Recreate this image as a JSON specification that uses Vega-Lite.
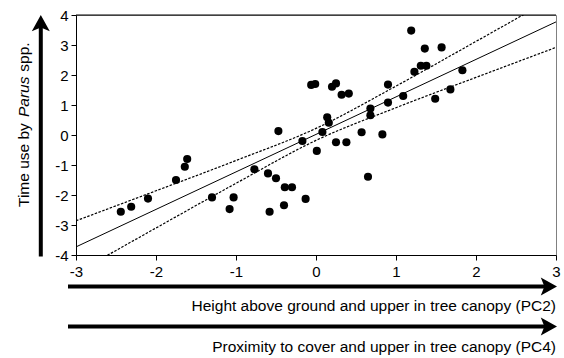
{
  "$schema": "https://vega.github.io/schema/vega-lite/v6.json",
  "width": 480,
  "height": 240,
  "autosize": {"type": "none"},
  "padding": {"left": 76, "top": 15, "right": 8, "bottom": 103},
  "background": "white",
  "config": {
    "view": {"stroke": "#808080", "strokeWidth": 1},
    "font": "Liberation Sans",
    "axis": {
      "grid": false, "tickSize": 5, "labelFontSize": 15, "labelColor": "black",
      "domainColor": "black", "tickColor": "black", "labelFlush": false, "labelOverlap": false,
      "labelExpr": "datum.value < 0 ? '-' + abs(datum.value) : '' + datum.value"
    },
    "axisX": {"labelPadding": 4},
    "axisY": {"labelPadding": 3}
  },
  "datasets": {
    "obs": [
      {"pc": 1.19, "time": 3.48}, {"pc": 1.36, "time": 2.88}, {"pc": 1.57, "time": 2.92},
      {"pc": 1.31, "time": 2.31}, {"pc": 1.38, "time": 2.31}, {"pc": 1.23, "time": 2.11},
      {"pc": 1.83, "time": 2.16}, {"pc": 1.68, "time": 1.52}, {"pc": 1.49, "time": 1.21},
      {"pc": -0.06, "time": 1.67}, {"pc": -0.01, "time": 1.70}, {"pc": 0.20, "time": 1.61},
      {"pc": 0.25, "time": 1.72}, {"pc": 0.32, "time": 1.34}, {"pc": 0.41, "time": 1.38},
      {"pc": 0.90, "time": 1.68}, {"pc": 0.90, "time": 1.08}, {"pc": 1.09, "time": 1.30},
      {"pc": 0.68, "time": 0.88}, {"pc": 0.68, "time": 0.66}, {"pc": 0.14, "time": 0.59},
      {"pc": 0.16, "time": 0.41}, {"pc": 0.08, "time": 0.10}, {"pc": 0.57, "time": 0.09},
      {"pc": 0.83, "time": 0.02}, {"pc": -0.17, "time": -0.20}, {"pc": 0.01, "time": -0.53},
      {"pc": 0.25, "time": -0.24}, {"pc": 0.38, "time": -0.24}, {"pc": 0.65, "time": -1.39},
      {"pc": -0.13, "time": -2.13}, {"pc": -0.47, "time": 0.13}, {"pc": -2.44, "time": -2.56},
      {"pc": -2.31, "time": -2.39}, {"pc": -2.10, "time": -2.12}, {"pc": -1.75, "time": -1.50},
      {"pc": -1.64, "time": -1.06}, {"pc": -1.61, "time": -0.80}, {"pc": -1.30, "time": -2.08},
      {"pc": -1.03, "time": -2.08}, {"pc": -1.08, "time": -2.47}, {"pc": -0.77, "time": -1.14},
      {"pc": -0.60, "time": -1.28}, {"pc": -0.50, "time": -1.44}, {"pc": -0.39, "time": -1.74},
      {"pc": -0.30, "time": -1.74}, {"pc": -0.40, "time": -2.34}, {"pc": -0.58, "time": -2.56}
    ],
    "fit": [
      {"pc": -3, "fit": -3.73, "lower": -4.60, "upper": -2.86},
      {"pc": -2, "fit": -2.48, "lower": -3.10, "upper": -1.86},
      {"pc": -1, "fit": -1.23, "lower": -1.61, "upper": -0.85},
      {"pc": 0, "fit": 0.02, "lower": -0.18, "upper": 0.22},
      {"pc": 1, "fit": 1.27, "lower": 0.91, "upper": 1.63},
      {"pc": 2, "fit": 2.52, "lower": 1.92, "upper": 3.12},
      {"pc": 3, "fit": 3.77, "lower": 2.92, "upper": 4.62}
    ]
  },
  "layer": [
    {
      "data": {"name": "obs"},
      "mark": {"type": "point", "filled": true, "color": "black", "opacity": 1, "size": 66, "shape": "circle"},
      "encoding": {
        "x": {"field": "pc", "type": "quantitative", "title": null, "scale": {"domain": [-3, 3], "nice": false, "zero": false}, "axis": {"values": [-3, -2, -1, 0, 1, 2, 3]}},
        "y": {"field": "time", "type": "quantitative", "title": null, "scale": {"domain": [-4, 4], "nice": false, "zero": false}, "axis": {"values": [-4, -3, -2, -1, 0, 1, 2, 3, 4]}}
      }
    },
    {
      "data": {"name": "fit"},
      "mark": {"type": "line", "color": "black", "strokeWidth": 1, "clip": true},
      "encoding": {
        "x": {"field": "pc", "type": "quantitative", "title": null, "axis": {"values": [-3, -2, -1, 0, 1, 2, 3]}},
        "y": {"field": "fit", "type": "quantitative", "title": null, "axis": {"values": [-4, -3, -2, -1, 0, 1, 2, 3, 4]}}
      }
    },
    {
      "data": {"name": "fit"},
      "mark": {"type": "line", "color": "black", "strokeWidth": 1.2, "strokeDash": [2.5, 1.5], "clip": true, "interpolate": "monotone"},
      "encoding": {
        "x": {"field": "pc", "type": "quantitative", "title": null, "axis": {"values": [-3, -2, -1, 0, 1, 2, 3]}},
        "y": {"field": "upper", "type": "quantitative", "title": null, "axis": {"values": [-4, -3, -2, -1, 0, 1, 2, 3, 4]}}
      }
    },
    {
      "data": {"name": "fit"},
      "mark": {"type": "line", "color": "black", "strokeWidth": 1.2, "strokeDash": [2.5, 1.5], "clip": true, "interpolate": "monotone"},
      "encoding": {
        "x": {"field": "pc", "type": "quantitative", "title": null, "axis": {"values": [-3, -2, -1, 0, 1, 2, 3]}},
        "y": {"field": "lower", "type": "quantitative", "title": null, "axis": {"values": [-4, -3, -2, -1, 0, 1, 2, 3, 4]}}
      }
    },
    {
      "data": {"values": [{}]},
      "mark": {"type": "rule", "color": "black", "strokeWidth": 1},
      "encoding": {
        "x": {"datum": -3, "title": null, "axis": {"values": [-3, -2, -1, 0, 1, 2, 3]}},
        "x2": {"datum": 3},
        "y": {"datum": 4, "title": null, "axis": {"values": [-4, -3, -2, -1, 0, 1, 2, 3, 4]}}
      }
    },
    {
      "data": {"values": [{}]},
      "mark": {"type": "rule", "color": "black", "strokeWidth": 4},
      "encoding": {
        "x": {"datum": -3.1, "title": null, "axis": {"values": [-3, -2, -1, 0, 1, 2, 3]}},
        "x2": {"datum": 2.87},
        "y": {"datum": -5.05, "title": null, "axis": {"values": [-4, -3, -2, -1, 0, 1, 2, 3, 4]}}
      }
    },
    {
      "data": {"values": [{}]},
      "mark": {"type": "rule", "color": "black", "strokeWidth": 4},
      "encoding": {
        "x": {"datum": -3.1, "title": null, "axis": {"values": [-3, -2, -1, 0, 1, 2, 3]}},
        "x2": {"datum": 2.87},
        "y": {"datum": -6.38, "title": null, "axis": {"values": [-4, -3, -2, -1, 0, 1, 2, 3, 4]}}
      }
    },
    {
      "data": {"values": [{}]},
      "mark": {"type": "rule", "color": "black", "strokeWidth": 4},
      "encoding": {
        "x": {"datum": -3.44, "title": null, "axis": {"values": [-3, -2, -1, 0, 1, 2, 3]}},
        "y": {"datum": -4.05, "title": null, "axis": {"values": [-4, -3, -2, -1, 0, 1, 2, 3, 4]}},
        "y2": {"datum": 3.6}
      }
    },
    {
      "data": {"values": [{}]},
      "mark": {"type": "point", "filled": true, "color": "black", "opacity": 1, "size": 324, "strokeWidth": 0, "shape": "M-0.8,-1L1,0L-0.8,1L-0.4,0Z"},
      "encoding": {
        "x": {"datum": 2.9, "title": null, "axis": {"values": [-3, -2, -1, 0, 1, 2, 3]}},
        "y": {"datum": -5.05, "title": null, "axis": {"values": [-4, -3, -2, -1, 0, 1, 2, 3, 4]}}
      }
    },
    {
      "data": {"values": [{}]},
      "mark": {"type": "point", "filled": true, "color": "black", "opacity": 1, "size": 324, "strokeWidth": 0, "shape": "M-0.8,-1L1,0L-0.8,1L-0.4,0Z"},
      "encoding": {
        "x": {"datum": 2.9, "title": null, "axis": {"values": [-3, -2, -1, 0, 1, 2, 3]}},
        "y": {"datum": -6.38, "title": null, "axis": {"values": [-4, -3, -2, -1, 0, 1, 2, 3, 4]}}
      }
    },
    {
      "data": {"values": [{}]},
      "mark": {"type": "point", "filled": true, "color": "black", "opacity": 1, "size": 324, "strokeWidth": 0, "shape": "M-1,0.8L0,-1L1,0.8L0,0.4Z"},
      "encoding": {
        "x": {"datum": -3.44, "title": null, "axis": {"values": [-3, -2, -1, 0, 1, 2, 3]}},
        "y": {"datum": 3.7, "title": null, "axis": {"values": [-4, -3, -2, -1, 0, 1, 2, 3, 4]}}
      }
    },
    {
      "data": {"values": [{}]},
      "mark": {"type": "text", "align": "right", "baseline": "middle", "fontSize": 15.5, "color": "black"},
      "encoding": {
        "x": {"datum": 3.0, "title": null, "axis": {"values": [-3, -2, -1, 0, 1, 2, 3]}},
        "y": {"datum": -5.7, "title": null, "axis": {"values": [-4, -3, -2, -1, 0, 1, 2, 3, 4]}},
        "text": {"value": "Height above ground and upper in tree canopy (PC2)"}
      }
    },
    {
      "data": {"values": [{}]},
      "mark": {"type": "text", "align": "right", "baseline": "middle", "fontSize": 15.5, "color": "black"},
      "encoding": {
        "x": {"datum": 3.0, "title": null, "axis": {"values": [-3, -2, -1, 0, 1, 2, 3]}},
        "y": {"datum": -7.08, "title": null, "axis": {"values": [-4, -3, -2, -1, 0, 1, 2, 3, 4]}},
        "text": {"value": "Proximity to cover and upper in tree canopy (PC4)"}
      }
    },
    {
      "data": {"values": [{}]},
      "mark": {"type": "text", "align": "left", "baseline": "middle", "angle": 270, "fontSize": 15.5, "color": "black"},
      "encoding": {
        "x": {"datum": -3.65, "title": null, "axis": {"values": [-3, -2, -1, 0, 1, 2, 3]}},
        "y": {"datum": -2.4, "title": null, "axis": {"values": [-4, -3, -2, -1, 0, 1, 2, 3, 4]}},
        "text": {"value": "Time use by"}
      }
    },
    {
      "data": {"values": [{}]},
      "mark": {"type": "text", "align": "left", "baseline": "middle", "angle": 270, "fontSize": 15.5, "fontStyle": "italic", "color": "black"},
      "encoding": {
        "x": {"datum": -3.65, "title": null, "axis": {"values": [-3, -2, -1, 0, 1, 2, 3]}},
        "y": {"datum": 0.6, "title": null, "axis": {"values": [-4, -3, -2, -1, 0, 1, 2, 3, 4]}},
        "text": {"value": "Parus"}
      }
    },
    {
      "data": {"values": [{}]},
      "mark": {"type": "text", "align": "left", "baseline": "middle", "angle": 270, "fontSize": 15.5, "color": "black"},
      "encoding": {
        "x": {"datum": -3.65, "title": null, "axis": {"values": [-3, -2, -1, 0, 1, 2, 3]}},
        "y": {"datum": 2.11, "title": null, "axis": {"values": [-4, -3, -2, -1, 0, 1, 2, 3, 4]}},
        "text": {"value": "spp."}
      }
    }
  ]
}
